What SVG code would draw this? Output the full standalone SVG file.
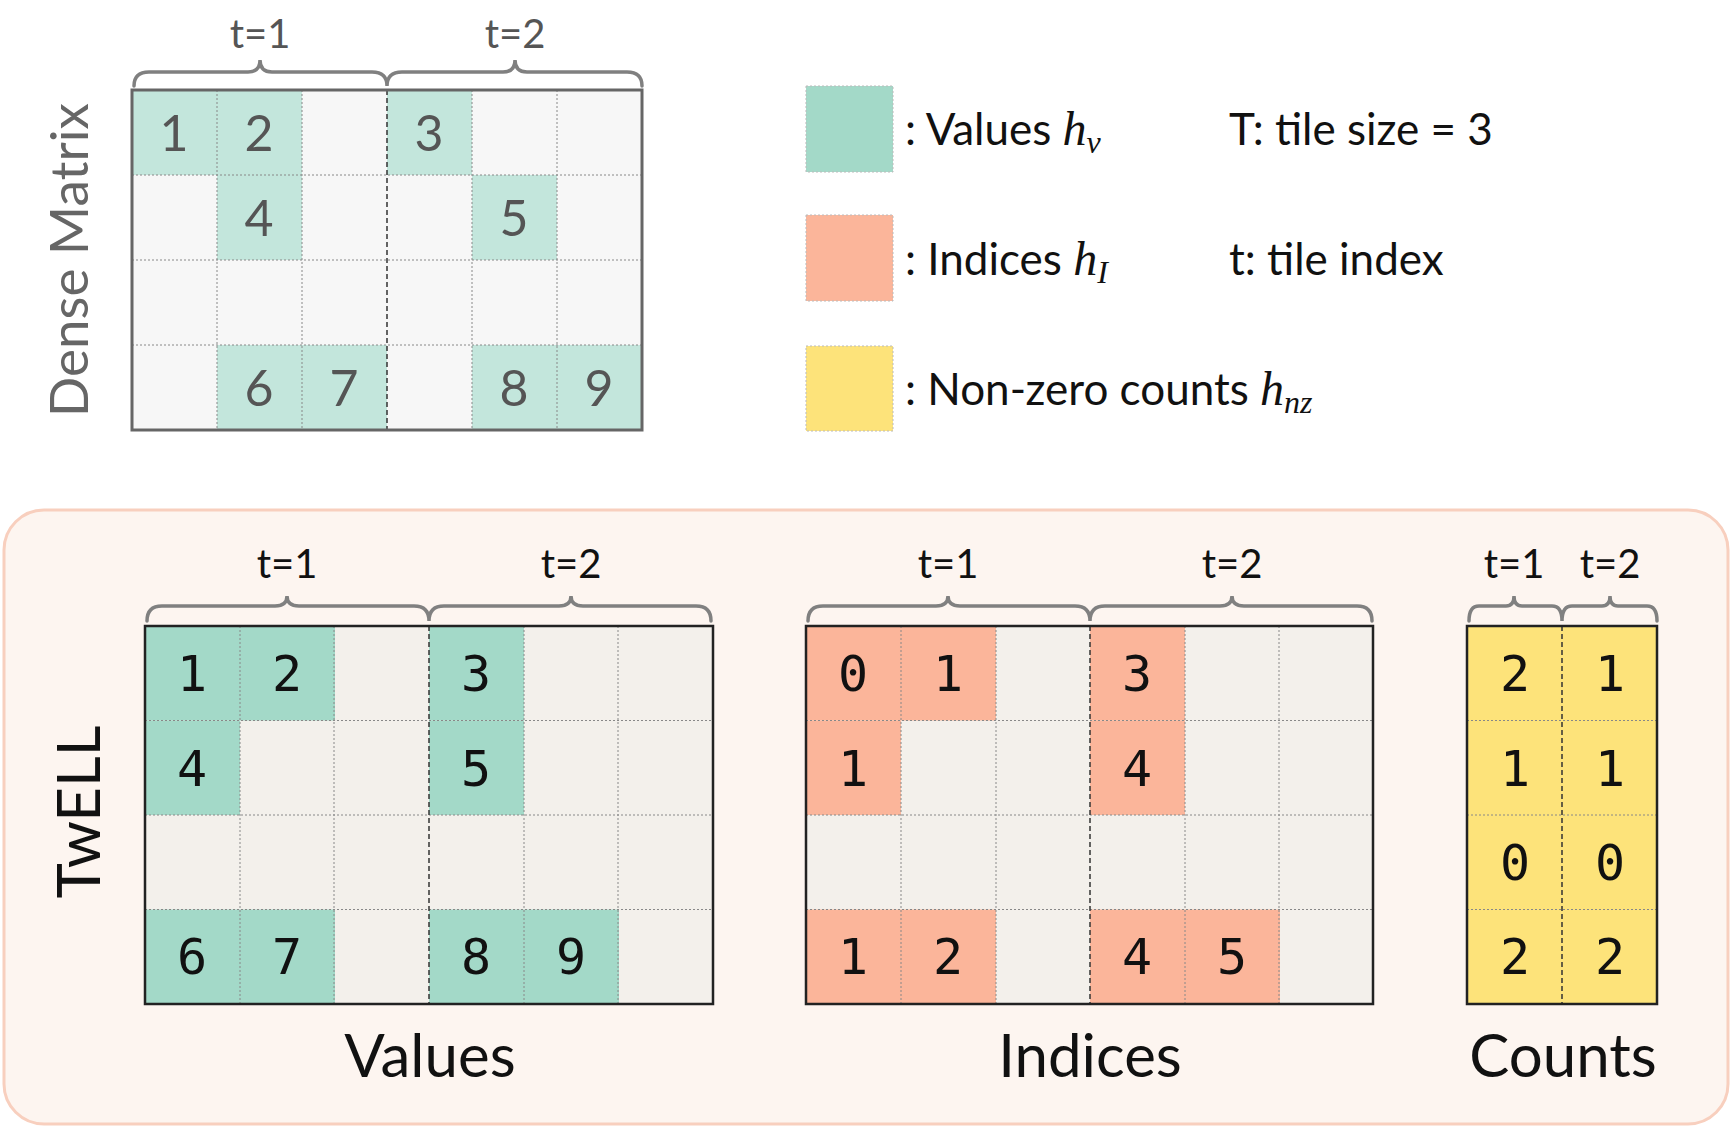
<svg xmlns="http://www.w3.org/2000/svg" width="1732" height="1128" viewBox="0 0 1732 1128">
<style>
.brace{fill:none;stroke:#808080;stroke-width:3.5;stroke-linecap:round}
.grid{stroke:#888;stroke-width:1;stroke-dasharray:2,2}
.sep{stroke:#333;stroke-width:1.5;stroke-dasharray:5,3}
.lbl{font-family:"Lato","Liberation Sans",sans-serif;font-size:40px;text-anchor:middle}
.dn{font-family:"Lato","Liberation Sans",sans-serif;font-size:50px;fill:#555;text-anchor:middle}
.tn{font-family:"DejaVu Sans Mono","Liberation Mono",monospace;font-size:50px;fill:#111;text-anchor:middle}
.leg{font-family:"Lato","Liberation Sans",sans-serif;font-size:44px;fill:#111}
.math{font-family:"Liberation Serif",serif;font-style:italic}
.cap{font-family:"Lato","Liberation Sans",sans-serif;font-size:60px;fill:#111;text-anchor:middle}
</style>
<rect width="1732" height="1128" fill="#fff"/>
<g id="dense">
<text class="lbl" fill="#555" x="260" y="48">t=1</text>
<text class="lbl" fill="#555" x="515" y="48">t=2</text>
<path class="brace" d="M134,86 Q134,72 149,72 L248,72 Q260,72 260,60 Q260,72 272,72 L372,72 Q387,72 387,86 Q387,72 402,72 L503,72 Q515,72 515,60 Q515,72 527,72 L627,72 Q642,72 642,86"/>
<rect x="132" y="90" width="510" height="340" fill="#f7f7f7"/>
<g fill="#c3e6dc">
<rect x="132" y="90" width="85" height="85"/><rect x="217" y="90" width="85" height="85"/><rect x="387" y="90" width="85" height="85"/>
<rect x="217" y="175" width="85" height="85"/><rect x="472" y="175" width="85" height="85"/>
<rect x="217" y="345" width="85" height="85"/><rect x="302" y="345" width="85" height="85"/><rect x="472" y="345" width="85" height="85"/><rect x="557" y="345" width="85" height="85"/>
</g>
<path class="grid" d="M217,90V430M302,90V430M472,90V430M557,90V430M132,175H642M132,260H642M132,345H642"/>
<path class="sep" d="M387,90V430"/>
<rect x="132" y="90" width="510" height="340" fill="none" stroke="#666" stroke-width="3"/>
<text class="dn" x="174" y="151">1</text><text class="dn" x="259" y="151">2</text><text class="dn" x="429" y="151">3</text>
<text class="dn" x="259" y="236">4</text><text class="dn" x="514" y="236">5</text>
<text class="dn" x="259" y="406">6</text><text class="dn" x="344" y="406">7</text><text class="dn" x="514" y="406">8</text><text class="dn" x="599" y="406">9</text>
<text x="88" y="260" transform="rotate(-90 88 260)" font-family="Lato, Liberation Sans, sans-serif" font-size="53" fill="#666" text-anchor="middle">Dense Matrix</text>
</g>
<g id="legend">
<rect x="806" y="86" width="87" height="86" fill="#a3d9c8" stroke="#bbb" stroke-width="1" stroke-dasharray="2,2"/>
<rect x="806" y="215" width="87" height="86" fill="#fbb59a" stroke="#bbb" stroke-width="1" stroke-dasharray="2,2"/>
<rect x="806" y="346" width="87" height="85" fill="#fde37a" stroke="#bbb" stroke-width="1" stroke-dasharray="2,2"/>
<text class="leg" x="905" y="145">: Values <tspan class="math" font-size="48">h</tspan><tspan class="math" font-size="32" dy="8">v</tspan></text>
<text class="leg" x="905" y="275">: Indices <tspan class="math" font-size="48">h</tspan><tspan class="math" font-size="32" dy="8">I</tspan></text>
<text class="leg" x="905" y="405">: Non-zero counts <tspan class="math" font-size="48">h</tspan><tspan class="math" font-size="32" dy="8">nz</tspan></text>
<text class="leg" x="1229" y="145">T: tile size = 3</text>
<text class="leg" x="1229" y="275">t: tile index</text>
</g>
<g id="panel">
<rect x="4" y="510" width="1724" height="614" rx="40" fill="#fdf5f0" stroke="#f8cfbe" stroke-width="3"/>
<text x="100" y="812" transform="rotate(-90 100 812)" font-family="Lato, Liberation Sans, sans-serif" font-size="60" fill="#111" text-anchor="middle">TwELL</text>
</g>
<g id="values">
<text class="lbl" fill="#111" x="287" y="578">t=1</text>
<text class="lbl" fill="#111" x="571" y="578">t=2</text>
<path class="brace" d="M147,621 Q147,606 162,606 L275,606 Q287,606 287,596 Q287,606 299,606 L414,606 Q429,606 429,621 Q429,606 444,606 L559,606 Q571,606 571,596 Q571,606 583,606 L696,606 Q711,606 711,621"/>
<rect x="145" y="626" width="568" height="378" fill="#f3f0eb"/>
<g fill="#a3d9c8">
<rect x="145" y="626" width="95" height="94.5"/><rect x="240" y="626" width="95" height="94.5"/><rect x="429" y="626" width="95" height="94.5"/>
<rect x="145" y="720.5" width="95" height="94.5"/><rect x="429" y="720.5" width="95" height="94.5"/>
<rect x="145" y="909.5" width="95" height="94.5"/><rect x="240" y="909.5" width="95" height="94.5"/><rect x="429" y="909.5" width="95" height="94.5"/><rect x="524" y="909.5" width="95" height="94.5"/>
</g>
<path class="grid" d="M240,626V1004M334,626V1004M524,626V1004M618,626V1004M145,720.5H713M145,815H713M145,909.5H713"/>
<path class="sep" d="M429,626V1004"/>
<rect x="145" y="626" width="568" height="378" fill="none" stroke="#222" stroke-width="2.5"/>
<text class="tn" x="192" y="691">1</text><text class="tn" x="287" y="691">2</text><text class="tn" x="476" y="691">3</text>
<text class="tn" x="192" y="786">4</text><text class="tn" x="476" y="786">5</text>
<text class="tn" x="192" y="974">6</text><text class="tn" x="287" y="974">7</text><text class="tn" x="476" y="974">8</text><text class="tn" x="571" y="974">9</text>
<text class="cap" x="430" y="1077">Values</text>
</g>
<g id="indices">
<text class="lbl" fill="#111" x="948" y="578">t=1</text>
<text class="lbl" fill="#111" x="1232" y="578">t=2</text>
<path class="brace" d="M808,621 Q808,606 823,606 L936,606 Q948,606 948,596 Q948,606 960,606 L1075,606 Q1090,606 1090,621 Q1090,606 1105,606 L1220,606 Q1232,606 1232,596 Q1232,606 1244,606 L1357,606 Q1372,606 1372,621"/>
<rect x="806" y="626" width="567" height="378" fill="#f3f0eb"/>
<g fill="#fbb59a">
<rect x="806" y="626" width="95" height="94.5"/><rect x="901" y="626" width="95" height="94.5"/><rect x="1090" y="626" width="95" height="94.5"/>
<rect x="806" y="720.5" width="95" height="94.5"/><rect x="1090" y="720.5" width="95" height="94.5"/>
<rect x="806" y="909.5" width="95" height="94.5"/><rect x="901" y="909.5" width="95" height="94.5"/><rect x="1090" y="909.5" width="95" height="94.5"/><rect x="1185" y="909.5" width="95" height="94.5"/>
</g>
<path class="grid" d="M901,626V1004M996,626V1004M1185,626V1004M1279,626V1004M806,720.5H1373M806,815H1373M806,909.5H1373"/>
<path class="sep" d="M1090,626V1004"/>
<rect x="806" y="626" width="567" height="378" fill="none" stroke="#222" stroke-width="2.5"/>
<text class="tn" x="853" y="691">0</text><text class="tn" x="948" y="691">1</text><text class="tn" x="1137" y="691">3</text>
<text class="tn" x="853" y="786">1</text><text class="tn" x="1137" y="786">4</text>
<text class="tn" x="853" y="974">1</text><text class="tn" x="948" y="974">2</text><text class="tn" x="1137" y="974">4</text><text class="tn" x="1232" y="974">5</text>
<text class="cap" x="1090" y="1077">Indices</text>
</g>
<g id="counts">
<text class="lbl" fill="#111" x="1514" y="578">t=1</text>
<text class="lbl" fill="#111" x="1610" y="578">t=2</text>
<path class="brace" d="M1469,621 Q1469,606 1479,606 L1506,606 Q1514,606 1514,596 Q1514,606 1522,606 L1552,606 Q1562,606 1562,621 Q1562,606 1572,606 L1602,606 Q1610,606 1610,596 Q1610,606 1618,606 L1647,606 Q1657,606 1657,621"/>
<rect x="1467" y="626" width="190" height="378" fill="#fde37a"/>
<path class="grid" d="M1467,720.5H1657M1467,815H1657M1467,909.5H1657"/>
<path class="sep" d="M1562,626V1004"/>
<rect x="1467" y="626" width="190" height="378" fill="none" stroke="#222" stroke-width="2.5"/>
<text class="tn" x="1515" y="691">2</text><text class="tn" x="1610" y="691">1</text>
<text class="tn" x="1515" y="786">1</text><text class="tn" x="1610" y="786">1</text>
<text class="tn" x="1515" y="880">0</text><text class="tn" x="1610" y="880">0</text>
<text class="tn" x="1515" y="974">2</text><text class="tn" x="1610" y="974">2</text>
<text class="cap" x="1563" y="1077">Counts</text>
</g>
</svg>
